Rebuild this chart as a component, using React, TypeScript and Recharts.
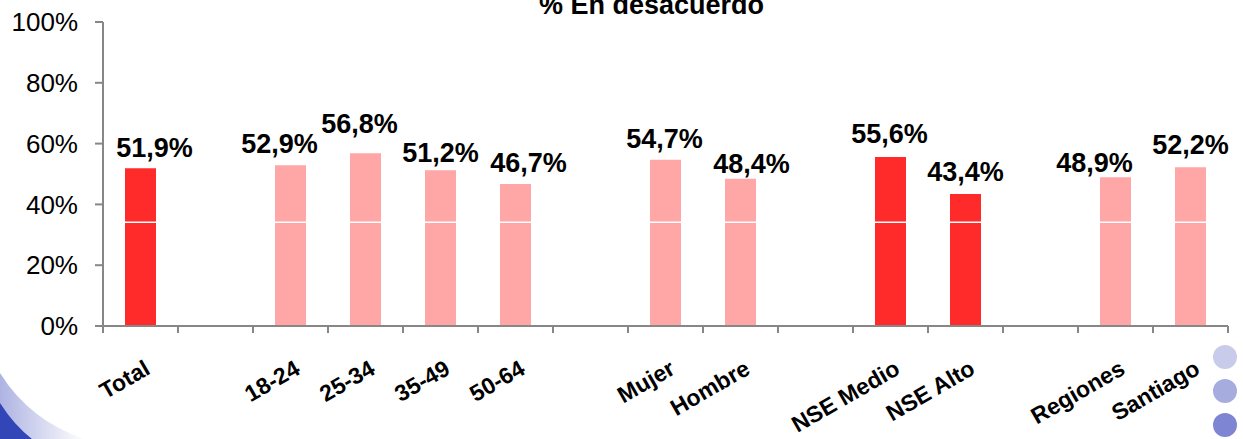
import { BarChart, Bar, XAxis, YAxis, ReferenceLine, LabelList, Cell } from "recharts";

// empty strings are spacer slots between the groups
const categories = ["Total", "", "18-24", "25-34", "35-49", "50-64", "", "Mujer", "Hombre", "", "NSE Medio", "NSE Alto", "", "Regiones", "Santiago"];
const desacuerdo = [51.9, null, 52.9, 56.8, 51.2, 46.7, null, 54.7, 48.4, null, 55.6, 43.4, null, 48.9, 52.2];
const yTicks = [0, 20, 40, 60, 80, 100];
const highlighted = ["Total", "NSE Medio", "NSE Alto"];

// hand nudges for the value labels: [dx, gap above bar]
const labelNudge = [
  [14, 11], [0, 0], [-11, 12], [-6, 20], [0, 8], [13, 12], [0, 0],
  [-1, 12], [11, 6], [0, 0], [-1, 14], [0, 13], [0, 0], [-21, 5], [0, 13],
];

const W = 1243;
const H = 439;
const PLOT_LEFT = 103;
const PLOT_RIGHT = 1228;
const SLOT = (PLOT_RIGHT - PLOT_LEFT) / categories.length;
const AXIS = "#878787";
const DARK = "#ff2b2b";
const LIGHT = "#ffa6a6";

const data = categories.map((name, i) => ({ name, value: desacuerdo[i] }));

function CategoryTick(props: any) {
  const { x, y, index } = props;
  const label = categories[index];
  const tx = x + 11;
  const ty = y + 47;
  return (
    <g>
      <line x1={x - SLOT / 2} y1={y} x2={x - SLOT / 2} y2={y + 7} stroke={AXIS} strokeWidth={2} />
      {index === categories.length - 1 && (
        <line x1={x + SLOT / 2} y1={y} x2={x + SLOT / 2} y2={y + 7} stroke={AXIS} strokeWidth={2} />
      )}
      {label && (
        <text
          x={tx}
          y={ty}
          textAnchor="end"
          transform={`rotate(-30 ${tx} ${ty})`}
          fontFamily="'Liberation Sans', Arial, sans-serif"
          fontWeight="bold"
          fontSize={23}
          fill="#000"
        >
          {label}
        </text>
      )}
    </g>
  );
}

function ValueLabel(props: any) {
  const { x, y, width, value } = props;
  if (value == null) return null;
  const i = Math.round((x + width / 2 - PLOT_LEFT) / SLOT - 0.5);
  const [dx, gap] = labelNudge[i] || [0, 12];
  return (
    <text
      x={x + width / 2 + dx}
      y={y - gap}
      textAnchor="middle"
      fontFamily="'Liberation Sans', Arial, sans-serif"
      fontWeight="bold"
      fontSize={27}
      fill="#000"
    >
      {value.toFixed(1).replace(".", ",")}%
    </text>
  );
}

export default function App() {
  return (
    <div style={{ position: "relative", width: W, height: H, overflow: "hidden", background: "#fff" }}>
      <style>{`body{margin:0}`}</style>
      <div
        style={{
          position: "absolute",
          top: -8,
          left: 0,
          width: W,
          textAlign: "center",
          paddingLeft: 60,
          boxSizing: "border-box",
          fontFamily: "'Liberation Sans', Arial, sans-serif",
          fontWeight: "bold",
          fontSize: 27,
          lineHeight: "27px",
        }}
      >
        % En desacuerdo
      </div>
      <BarChart width={W} height={H} data={data} margin={{ top: 22, right: W - PLOT_RIGHT, bottom: 0, left: 0 }}>
        <XAxis
          dataKey="name"
          interval={0}
          height={H - 326}
          tickSize={0}
          tickMargin={0}
          tickLine={false}
          axisLine={{ stroke: AXIS, strokeWidth: 2 }}
          tick={<CategoryTick />}
        />
        <YAxis
          domain={[0, 100]}
          ticks={yTicks}
          width={PLOT_LEFT}
          tickSize={8}
          tickMargin={17}
          tickFormatter={(v: number) => `${v}%`}
          axisLine={{ stroke: AXIS, strokeWidth: 2 }}
          tickLine={{ stroke: AXIS, strokeWidth: 2 }}
          tick={{ fill: "#000", fontSize: 26, fontFamily: "'Liberation Sans', Arial, sans-serif" }}
        />
        <Bar dataKey="value" barSize={31} isAnimationActive={false}>
          {data.map((d, i) => (
            <Cell key={i} fill={highlighted.includes(d.name) ? DARK : LIGHT} />
          ))}
          <LabelList dataKey="value" content={<ValueLabel />} />
        </Bar>
        <ReferenceLine y={34.1} stroke="#fff" strokeWidth={1.5} />
      </BarChart>
      <svg width={100} height={100} style={{ position: "absolute", left: 0, top: 339 }}>
        <defs>
          <linearGradient id="swoosh" x1="0" y1="0" x2="1" y2="0">
            <stop offset="0" stopColor="#aeb3e2" />
            <stop offset="1" stopColor="#ffffff" />
          </linearGradient>
        </defs>
        <path d="M0,34 Q30,82 85,100 L0,100 Z" fill="url(#swoosh)" />
        <path d="M0,64 Q14,86 32,100 L0,100 Z" fill="#3346b8" />
      </svg>
      {["#c8cbe9", "#a7acdf", "#7e86d3"].map((c, i) => (
        <div
          key={c}
          style={{
            position: "absolute",
            left: 1213,
            top: 345 + i * 34,
            width: 24,
            height: 24,
            borderRadius: "50%",
            background: c,
          }}
        />
      ))}
    </div>
  );
}
